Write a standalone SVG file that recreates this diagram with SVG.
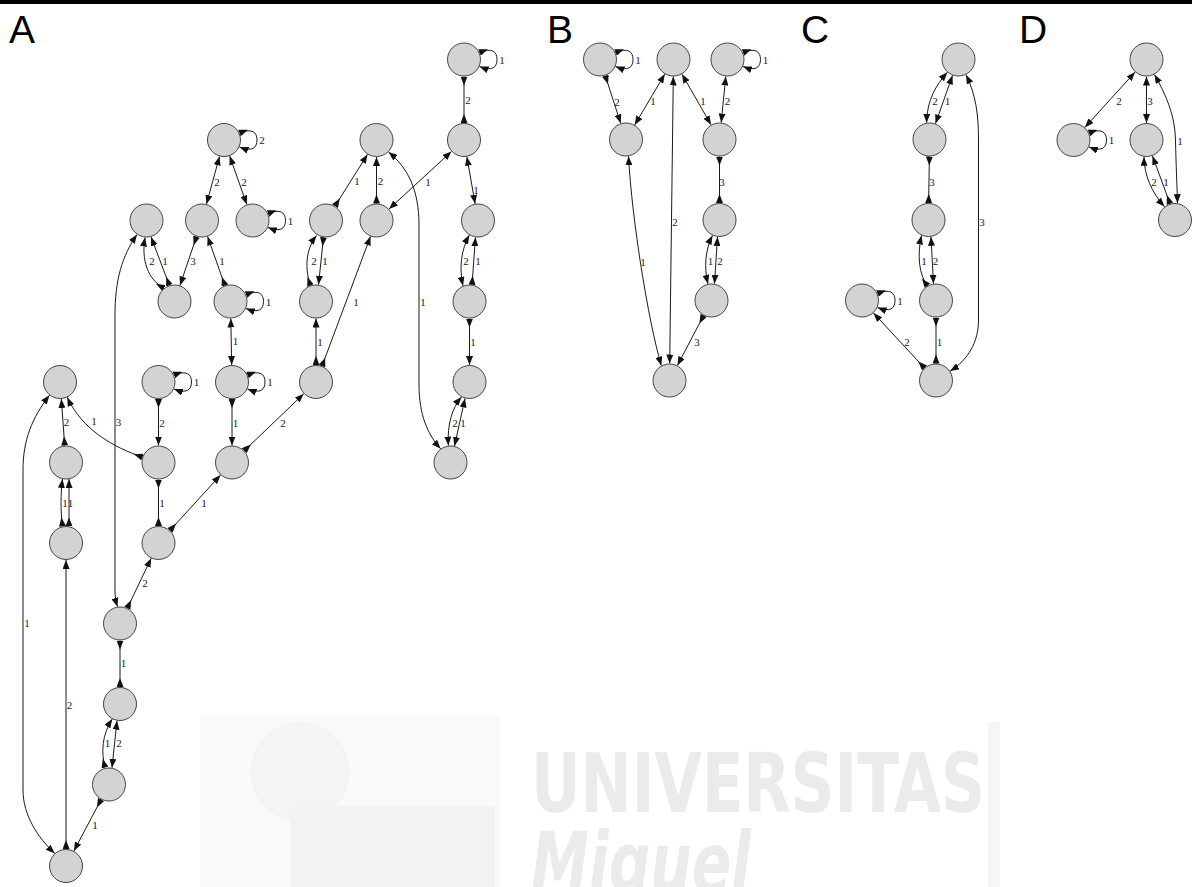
<svg xmlns="http://www.w3.org/2000/svg" width="1196" height="887" viewBox="0 0 1196 887">
  <style>
    .nodes circle { fill: #d3d3d3; stroke: #444; stroke-width: 1; }
    .e { fill: none; stroke: #1a1a1a; stroke-width: 1; }
    .nn { marker-start: url(#mn); marker-end: url(#mn); }
    .in { marker-start: url(#mi); marker-end: url(#mn); }
    .ii { marker-start: url(#mi); marker-end: url(#mi); }
    .lbl { font-family: "Liberation Serif", "Times New Roman", serif; font-size: 11px; fill: #1a1a1a; text-anchor: middle; }
    .panel { font-family: "Liberation Sans", Arial, sans-serif; font-size: 39px; fill: #000; }
    .wm { fill: #ebebeb; }
  </style>
  <defs>
    <!-- normal arrowhead: tip on the node boundary -->
    <marker id="mn" viewBox="0 0 9 7" refX="9" refY="3.5" markerWidth="9" markerHeight="7" markerUnits="userSpaceOnUse" orient="auto-start-reverse">
      <path d="M0,0 L9,3.5 L0,7 z" fill="#111"/>
    </marker>
    <!-- inverted arrowhead: base on the node boundary -->
    <marker id="mi" viewBox="0 0 9 7" refX="9" refY="3.5" markerWidth="9" markerHeight="7" markerUnits="userSpaceOnUse" orient="auto-start-reverse">
      <path d="M9,0 L0,3.5 L9,7 z" fill="#111"/>
    </marker>
  </defs>

  <rect width="1196" height="887" fill="#fff"/>

  <!-- faint background watermark -->
  <g id="watermark">
    <rect x="200" y="716" width="300" height="171" fill="#fafafa"/>
    <circle cx="300" cy="772" r="50" fill="#f4f4f4"/>
    <rect x="290" y="806" width="205" height="81" fill="#f3f3f3"/>
    <rect x="988" y="722" width="12" height="165" fill="#f6f6f6"/>
    <text class="wm" x="531" y="812" font-family="'DejaVu Sans Condensed', 'DejaVu Sans', sans-serif" font-weight="bold" font-size="82" textLength="454" lengthAdjust="spacingAndGlyphs">UNIVERSITAS</text>
    <text class="wm" x="531" y="892" font-family="'DejaVu Sans Condensed', 'DejaVu Sans', sans-serif" font-style="italic" font-weight="bold" font-size="84" textLength="220" lengthAdjust="spacingAndGlyphs">Miguel</text>
  </g>

  <!-- top rule -->
  <rect x="0" y="0" width="1192" height="4" fill="#000"/>

  <!-- panel letters -->
  <text class="panel" x="9" y="43">A</text>
  <text class="panel" x="547" y="43">B</text>
  <text class="panel" x="801" y="43">C</text>
  <text class="panel" x="1019" y="43">D</text>

  <g id="connectors">
    <!-- panel A -->
    <path class="e ii" d="M464,76.5 L464,123"/><text class="lbl" x="468" y="104">2</text>
    <path class="e nn" d="M466.9,156.7 L475.1,203.8"/><text class="lbl" x="476" y="194">1</text>
    <path class="e nn" d="M451.5,151.5 L389,209"/><text class="lbl" x="428" y="186">1</text>
    <path class="e in" d="M376.5,203.5 L376.5,157"/><text class="lbl" x="380.5" y="185">2</text>
    <path class="e in" d="M335,206.1 L367.5,154.4"/><text class="lbl" x="357" y="185">1</text>
    <path class="e nn" d="M388.5,152 C408,168 419,190 419,225 L419,385 C419,415 428,435 440.6,448.7"/><text class="lbl" x="423" y="306">1</text>
    <path class="e in" d="M322,366.1 L370.5,236.4"/><text class="lbl" x="356" y="306">1</text>
    <path class="e in" d="M316,365 L316,318.5"/><text class="lbl" x="320" y="346">1</text>
    <path class="e in" d="M310.5,285.5 C305,270 305,250 316.5,235.5"/><text class="lbl" x="314" y="265">2</text>
    <path class="e in" d="M323.5,237.3 L318.5,284.7"/><text class="lbl" x="325" y="265">1</text>
    <path class="e in" d="M244.3,450.7 L303.7,393.8"/><text class="lbl" x="283" y="427">2</text>
    <path class="e in" d="M232,399 L232,445.5"/><text class="lbl" x="235.5" y="427">1</text>
    <path class="e nn" d="M230.8,318.5 L231.7,365"/><text class="lbl" x="235.5" y="345">1</text>
    <path class="e in" d="M224.9,285.5 L207.6,236.5"/><text class="lbl" x="222" y="265">1</text>
    <path class="e in" d="M196.5,236.6 L180,285.4"/><text class="lbl" x="193" y="265">3</text>
    <path class="e in" d="M164.1,288.1 C148,280 141,260 145.1,237.4"/><text class="lbl" x="152" y="265">2</text>
    <path class="e in" d="M169.4,285.3 L151,236.9"/><text class="lbl" x="165" y="265">1</text>
    <path class="e nn" d="M137,234.6 C122,256 115,280 115,315 L115,590 C115,597 116,602 117.5,606.7"/><text class="lbl" x="118.5" y="426">3</text>
    <path class="e nn" d="M219.5,156.4 L206.5,204.1"/><text class="lbl" x="217" y="186">2</text>
    <path class="e nn" d="M229.7,156 L246.8,204.5"/><text class="lbl" x="244" y="186">2</text>
    <path class="e in" d="M158.5,399 L158.5,445.5"/><text class="lbl" x="162" y="427">2</text>
    <path class="e in" d="M142.4,457 C115,448 82,430 67.3,397.3"/><text class="lbl" x="94" y="425">1</text>
    <path class="e in" d="M64.7,445.5 L61.3,399"/><text class="lbl" x="66.5" y="426">2</text>
    <path class="e in" d="M62.5,526.4 C60.5,510 60.5,495 62.5,479"/><text class="lbl" x="65" y="507">1</text>
    <path class="e in" d="M69,526.4 L69,479"/><text class="lbl" x="70.5" y="507">1</text>
    <path class="e in" d="M66,849 L66,560"/><text class="lbl" x="69.5" y="709">2</text>
    <path class="e nn" d="M49.4,395.3 C32,418 23,440 23,470 L23,790 C23,815 38,838 54.7,853.3"/><text class="lbl" x="27" y="627">1</text>
    <path class="e ii" d="M158.5,479.5 L158.5,526"/><text class="lbl" x="162" y="507">1</text>
    <path class="e in" d="M170,530.4 L220.5,475.1"/><text class="lbl" x="204" y="507">1</text>
    <path class="e in" d="M127.3,608.2 L151.2,558.3"/><text class="lbl" x="145" y="587">2</text>
    <path class="e ii" d="M120,640.5 L120,687"/><text class="lbl" x="123.5" y="667">1</text>
    <path class="e in" d="M105,767.5 C101,752 102,735 112.2,719.1"/><text class="lbl" x="107.5" y="747">1</text>
    <path class="e nn" d="M117,720.7 L112,767.8"/><text class="lbl" x="119" y="747">2</text>
    <path class="e in" d="M101.1,799.5 L73.9,851"/><text class="lbl" x="95" y="829">1</text>
    <path class="e nn" d="M469.3,235.1 C461,250 459,268 463,285.8"/><text class="lbl" x="466" y="265">2</text>
    <path class="e in" d="M472,284.7 L475.5,237.3"/><text class="lbl" x="478" y="265">1</text>
    <path class="e in" d="M469.5,318.5 L469.5,365"/><text class="lbl" x="473" y="346">1</text>
    <path class="e nn" d="M461.5,397 C452,408 447,425 448.4,445.6"/><text class="lbl" x="455" y="427">2</text>
    <path class="e nn" d="M454.5,446 L465,398.4"/><text class="lbl" x="463" y="427">1</text>
    <!-- panel A self-loops -->
    <path class="e in" d="M479.5,52.5 C492,47.5 497,51.5 497,59.5 C497,67.5 492,71.5 479.5,66.5"/><text class="lbl" x="502" y="63.5">1</text>
    <path class="e in" d="M239.5,133 C252,128 257,132 257,140 C257,148 252,152 239.5,147"/><text class="lbl" x="262" y="144">2</text>
    <path class="e in" d="M268,213.5 C280.5,208.5 285.5,212.5 285.5,220.5 C285.5,228.5 280.5,232.5 268,227.5"/><text class="lbl" x="290.5" y="224.5">1</text>
    <path class="e in" d="M246,294.5 C258.5,289.5 263.5,293.5 263.5,301.5 C263.5,309.5 258.5,313.5 246,308.5"/><text class="lbl" x="268.5" y="305.5">1</text>
    <path class="e in" d="M174,375 C186.5,370 191.5,374 191.5,382 C191.5,390 186.5,394 174,389"/><text class="lbl" x="196.5" y="386">1</text>
    <path class="e in" d="M247.5,375 C260,370 265,374 265,382 C265,390 260,394 247.5,389"/><text class="lbl" x="270" y="386">1</text>

    <!-- panel B -->
    <path class="e in" d="M605.3,75.7 L620.7,123.3"/><text class="lbl" x="617" y="106">2</text>
    <path class="e nn" d="M664.8,74.1 L634.7,124.9"/><text class="lbl" x="653" y="105">1</text>
    <path class="e nn" d="M673.3,76.5 L669.7,363.5"/><text class="lbl" x="675" y="226">2</text>
    <path class="e nn" d="M682,74.2 L711,124.8"/><text class="lbl" x="703" y="105">1</text>
    <path class="e nn" d="M725.8,76.4 L721.2,122.6"/><text class="lbl" x="727.5" y="105">2</text>
    <path class="e nn" d="M628.5,156.3 C632,220 648,320 661.3,365.6"/><text class="lbl" x="643" y="266">1</text>
    <path class="e ii" d="M719.5,156.5 L719.5,203"/><text class="lbl" x="722" y="186">3</text>
    <path class="e nn" d="M708,283.9 C704,268 705,250 712.5,235.5"/><text class="lbl" x="710.5" y="265">1</text>
    <path class="e nn" d="M717.5,236.9 L714.5,283.7"/><text class="lbl" x="720" y="265">2</text>
    <path class="e in" d="M703.6,315.5 L677.4,365.5"/><text class="lbl" x="697" y="346">3</text>
    <path class="e in" d="M615.5,52.5 C628,47.5 633,51.5 633,59.5 C633,67.5 628,71.5 615.5,66.5"/><text class="lbl" x="638" y="63.5">1</text>
    <path class="e in" d="M743,52.5 C755.5,47.5 760.5,51.5 760.5,59.5 C760.5,67.5 755.5,71.5 743,66.5"/><text class="lbl" x="765.5" y="63.5">1</text>

    <!-- panel C -->
    <path class="e nn" d="M947.4,72.3 C936,85 927,100 926.6,122.7"/><text class="lbl" x="935" y="105">2</text>
    <path class="e nn" d="M952.5,75.4 L935.5,123.6"/><text class="lbl" x="947.5" y="105">1</text>
    <path class="e nn" d="M966,74.8 C976,95 978.5,115 978.5,140 L978.5,320 C978.5,342 968,360 950.1,371.1"/><text class="lbl" x="982" y="226">3</text>
    <path class="e ii" d="M929.4,156.5 L928.6,203"/><text class="lbl" x="932" y="186">3</text>
    <path class="e in" d="M927.5,285.8 C919,275 917,255 921.5,235.5"/><text class="lbl" x="924" y="265">1</text>
    <path class="e nn" d="M931,236.8 L933.5,283.7"/><text class="lbl" x="935.5" y="265">2</text>
    <path class="e ii" d="M936,317.5 L936,363.5"/><text class="lbl" x="939.5" y="346">1</text>
    <path class="e in" d="M924.5,368 L873.5,313"/><text class="lbl" x="907" y="346">2</text>
    <path class="e in" d="M877.5,293.5 C890,288.5 895,292.5 895,300.5 C895,308.5 890,312.5 877.5,307.5"/><text class="lbl" x="900" y="304.5">1</text>

    <!-- panel D -->
    <path class="e nn" d="M1135.1,72.1 L1084.9,127.4"/><text class="lbl" x="1119" y="105">2</text>
    <path class="e nn" d="M1146.5,76.5 L1146.5,123"/><text class="lbl" x="1150" y="105">3</text>
    <path class="e nn" d="M1154.5,74.5 C1166,95 1175,115 1175.5,140 C1176,165 1177,185 1177.5,203.2"/><text class="lbl" x="1180" y="145">1</text>
    <path class="e nn" d="M1144,156.8 C1144,175 1152,193 1164.5,206.6"/><text class="lbl" x="1154" y="186">2</text>
    <path class="e in" d="M1170,203.7 L1152.5,155.9"/><text class="lbl" x="1166" y="186">1</text>
    <path class="e in" d="M1089,133 C1101.5,128 1106.5,132 1106.5,140 C1106.5,148 1101.5,152 1089,147"/><text class="lbl" x="1111.5" y="144">1</text>
  </g>

  <g class="nodes">
    <g id="A1"><circle cx="464" cy="59.5" r="16.5"/></g>
    <g id="A2"><circle cx="464" cy="140" r="16.5"/></g>
    <g id="A3"><circle cx="224" cy="140" r="16.5"/></g>
    <g id="A4"><circle cx="376.5" cy="140" r="16.5"/></g>
    <g id="A5"><circle cx="146.5" cy="220.5" r="16.5"/></g>
    <g id="A6"><circle cx="202" cy="220.5" r="16.5"/></g>
    <g id="A7"><circle cx="252.5" cy="220.5" r="16.5"/></g>
    <g id="A8"><circle cx="326" cy="220.5" r="16.5"/></g>
    <g id="A9"><circle cx="376.5" cy="220.5" r="16.5"/></g>
    <g id="A10"><circle cx="478" cy="220.5" r="16.5"/></g>
    <g id="A11"><circle cx="174.5" cy="301.5" r="16.5"/></g>
    <g id="A12"><circle cx="230.5" cy="301.5" r="16.5"/></g>
    <g id="A13"><circle cx="316" cy="301.5" r="16.5"/></g>
    <g id="A14"><circle cx="469.5" cy="301.5" r="16.5"/></g>
    <g id="A15"><circle cx="60" cy="382" r="16.5"/></g>
    <g id="A16"><circle cx="158.5" cy="382" r="16.5"/></g>
    <g id="A17"><circle cx="232" cy="382" r="16.5"/></g>
    <g id="A18"><circle cx="316" cy="382" r="16.5"/></g>
    <g id="A19"><circle cx="469.5" cy="382" r="16.5"/></g>
    <g id="A20"><circle cx="66" cy="462.5" r="16.5"/></g>
    <g id="A21"><circle cx="158.5" cy="462.5" r="16.5"/></g>
    <g id="A22"><circle cx="232" cy="462.5" r="16.5"/></g>
    <g id="A23"><circle cx="450.5" cy="462.5" r="16.5"/></g>
    <g id="A24"><circle cx="66" cy="543" r="16.5"/></g>
    <g id="A25"><circle cx="158.5" cy="543" r="16.5"/></g>
    <g id="A26"><circle cx="120" cy="623.5" r="16.5"/></g>
    <g id="A27"><circle cx="120" cy="704" r="16.5"/></g>
    <g id="A28"><circle cx="109" cy="784.5" r="16.5"/></g>
    <g id="A29"><circle cx="66" cy="866" r="16.5"/></g>

    <g id="B1"><circle cx="600" cy="59.5" r="16.5"/></g>
    <g id="B2"><circle cx="673.5" cy="59.5" r="16.5"/></g>
    <g id="B3"><circle cx="727.5" cy="59.5" r="16.5"/></g>
    <g id="B4"><circle cx="626" cy="139.5" r="16.5"/></g>
    <g id="B5"><circle cx="719.5" cy="139.5" r="16.5"/></g>
    <g id="B6"><circle cx="719.5" cy="220" r="16.5"/></g>
    <g id="B7"><circle cx="711.5" cy="300.5" r="16.5"/></g>
    <g id="B8"><circle cx="669.5" cy="380.5" r="16.5"/></g>

    <g id="C1"><circle cx="958.5" cy="59.5" r="16.5"/></g>
    <g id="C2"><circle cx="929.5" cy="139.5" r="16.5"/></g>
    <g id="C3"><circle cx="928.5" cy="220" r="16.5"/></g>
    <g id="C4"><circle cx="936" cy="300.5" r="16.5"/></g>
    <g id="C5"><circle cx="862" cy="300.5" r="16.5"/></g>
    <g id="C6"><circle cx="936" cy="380.5" r="16.5"/></g>

    <g id="D1"><circle cx="1146.5" cy="59.5" r="16.5"/></g>
    <g id="D2"><circle cx="1073.5" cy="140" r="16.5"/></g>
    <g id="D3"><circle cx="1146.5" cy="140" r="16.5"/></g>
    <g id="D4"><circle cx="1175" cy="220" r="16.5"/></g>
  </g>
</svg>
